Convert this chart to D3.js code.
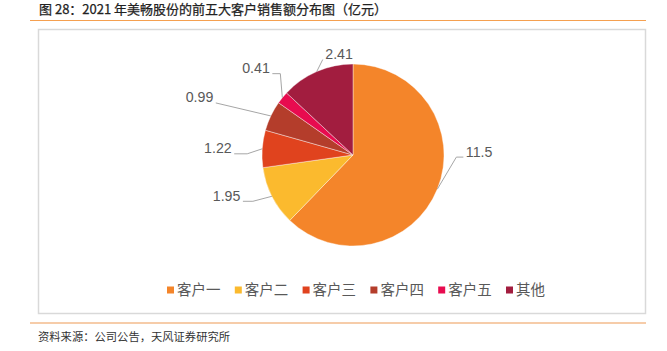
<!DOCTYPE html>
<html>
<head>
<meta charset="utf-8">
<script src="https://cdn.jsdelivr.net/npm/d3@7"></script>
<style>
  body { margin: 0; background: #fff; }
  svg { display: block; }
</style>
</head>
<body>
<script>
const customers = ["客户一", "客户二", "客户三", "客户四", "客户五", "其他"];
const sales = [11.5, 1.95, 1.22, 0.99, 0.41, 2.41];
const valueLabels = ["11.5", "1.95", "1.22", "0.99", "0.41", "2.41"];
const colors = ["#F4852A", "#FBBA2E", "#E0431E", "#B43D2B", "#E80B4F", "#A21D3F"];

// leader line end relative to its start on the slice edge, plus elbow length
const labelLayout = [
  { dx: 26, dy: -32, elbow: 7 },
  { dx: -29, dy: 5, elbow: 10 },
  { dx: -28, dy: 5, elbow: 13 },
  { dx: -55, dy: -13, elbow: 0 },
  { dx: -10, dy: -24, elbow: 8 },
  { dx: 6, dy: -12, elbow: 0 },
];

const width = 667;
const height = 351;
const cx = 353;
const cy = 155;
const radius = 91;

const cjk = "'Noto Sans CJK SC', 'Noto Sans', sans-serif";
const latin = "'Liberation Sans', Arial, sans-serif";

const svg = d3
  .select("body")
  .append("svg")
  .attr("width", width)
  .attr("height", height);

// title + rules
svg
  .append("text")
  .attr("x", 39)
  .attr("y", 14)
  .attr("font-family", cjk)
  .attr("font-size", 13)
  .attr("fill", "#222")
  .attr("stroke", "#222")
  .attr("stroke-width", 0.25)
  .text("图 28：2021 年美畅股份的前五大客户销售额分布图（亿元）");

svg
  .append("line")
  .attr("x1", 30)
  .attr("x2", 646)
  .attr("y1", 20.5)
  .attr("y2", 20.5)
  .attr("stroke", "#F5A050")
  .attr("stroke-width", 1.2);

svg
  .append("rect")
  .attr("x", 38.5)
  .attr("y", 29.5)
  .attr("width", 607)
  .attr("height", 284)
  .attr("fill", "none")
  .attr("stroke", "#D9D9D9")
  .attr("stroke-width", 1.5);

svg
  .append("line")
  .attr("x1", 30)
  .attr("x2", 646)
  .attr("y1", 323)
  .attr("y2", 323)
  .attr("stroke", "#EE9A55")
  .attr("stroke-width", 1.2);

svg
  .append("text")
  .attr("x", 38)
  .attr("y", 341)
  .attr("font-family", cjk)
  .attr("font-size", 11.3)
  .attr("fill", "#333")
  .text("资料来源：公司公告，天风证券研究所");

// pie
const pie = d3.pie().sort(null).value((d) => d)(sales);
const arc = d3.arc().innerRadius(0).outerRadius(radius);

const pieGroup = svg.append("g").attr("transform", `translate(${cx},${cy})`);

pieGroup
  .selectAll("path")
  .data(pie)
  .enter()
  .append("path")
  .attr("d", arc)
  .attr("fill", (d, i) => colors[i])
  .attr("stroke", "#fff")
  .attr("stroke-width", 0.4);

// labels with leader lines
const edgePoint = (d) => {
  const a = (d.startAngle + d.endAngle) / 2;
  return [Math.sin(a) * radius, -Math.cos(a) * radius];
};

const labels = pieGroup.append("g");

pie.forEach((d, i) => {
  const [sx, sy] = edgePoint(d);
  const l = labelLayout[i];
  const ex = sx + l.dx;
  const ey = sy + l.dy;
  const dir = l.dx > 0 ? 1 : -1;
  const elbowX = ex - dir * l.elbow;

  labels
    .append("polyline")
    .attr("points", `${sx},${sy} ${elbowX},${ey} ${ex},${ey}`)
    .attr("fill", "none")
    .attr("stroke", "#A6A6A6")
    .attr("stroke-width", 1);

  labels
    .append("text")
    .attr("x", ex + dir * 2.5)
    .attr("y", ey - 0.5)
    .attr("text-anchor", dir > 0 ? "start" : "end")
    .attr("font-family", latin)
    .attr("font-size", 14.2)
    .attr("fill", "#595959")
    .text(valueLabels[i]);
});

// legend
const legendX = d3.scalePoint().domain(customers).range([167, 506]);
const legendY = 290;

const legend = svg
  .append("g")
  .selectAll("g")
  .data(customers)
  .enter()
  .append("g")
  .attr("transform", (d) => `translate(${legendX(d)},${legendY})`);

legend
  .append("rect")
  .attr("x", 0)
  .attr("y", -3.5)
  .attr("width", 7)
  .attr("height", 7)
  .attr("fill", (d, i) => colors[i]);

legend
  .append("text")
  .attr("x", 10)
  .attr("y", 5)
  .attr("font-family", cjk)
  .attr("font-size", 14.5)
  .attr("fill", "#595959")
  .text((d) => d);
</script>
</body>
</html>
